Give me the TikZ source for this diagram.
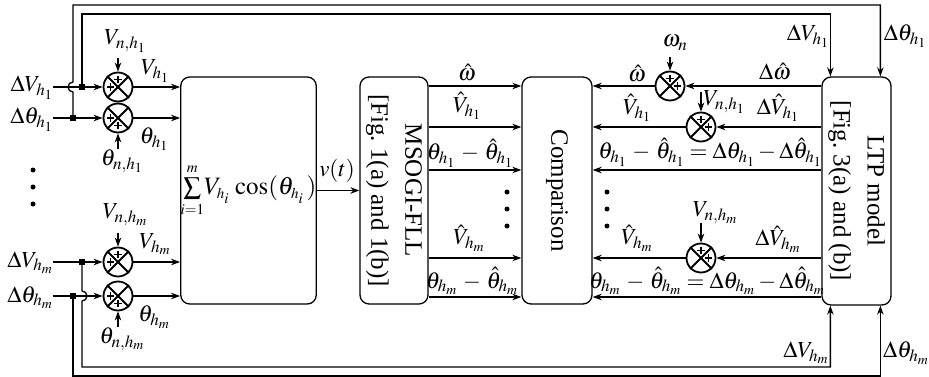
\documentclass[tikz,border=0pt]{standalone}
\usepackage{mathptmx}
\usepackage[no-math]{fontspec}
\setmainfont{Liberation Serif}
\usetikzlibrary{arrows.meta,calc}
\tikzset{
  wire/.style={line width=1.3pt},
  arr/.style={wire,-{Stealth[length=9pt,width=6.5pt]}},
  blk/.style={draw,line width=1.3pt,rounded corners=9pt,inner sep=0pt},
  sumj/.style={draw,circle,line width=1.8pt,minimum size=29pt,inner sep=0pt},
  lbl/.style={inner sep=0pt,font=\fontsize{23}{27}\selectfont},
  txt/.style={font=\fontsize{25}{34}\selectfont,align=center,inner sep=0pt},
  junc/.style={fill,minimum size=6.5pt,inner sep=0pt},
  dotmark/.style={fill,circle,minimum size=5pt,inner sep=0pt},
  plussign/.pic={\draw[line width=1.4pt] (-3.6pt,0)--(3.6pt,0) (0,-3.6pt)--(0,3.6pt);}
}
% summing junction: name, position, angles of the plus signs
\newcommand\mixjn[3]{%
  \node[sumj] (#1) at (#2) {};
  \draw[line width=1.8pt] (#1.north east)--(#1.south west) (#1.north west)--(#1.south east);
  \foreach \a in {#3} \pic at ($(#1.center)+(\a:7.5pt)$) {plussign};
}
\begin{document}
\begin{tikzpicture}[x=1pt,y=-1pt]
\useasboundingbox (0,0) rectangle (929,377);

% row levels of the signal lines
\coordinate (rW)  at (0,86);
\coordinate (rV1) at (0,127);
\coordinate (rT1) at (0,170);
\coordinate (rVm) at (0,258);
\coordinate (rTm) at (0,297);

% main blocks
\node[blk,txt,minimum width=133pt,minimum height=227pt] (sum) at (248.5,190.5)
  {$\sum\limits_{\scriptscriptstyle i=1}^{\scriptscriptstyle m}\!V_{\scriptscriptstyle h_i}\,\cos(\theta_{\scriptscriptstyle h_i}\,)$};
\node[blk,minimum width=68pt,minimum height=227pt] (msogi) at (394,190.5) {};
\node[txt,rotate=-90] (msogitxt) at (msogi.center) {MSOGI-FLL\\{}[Fig.~1(a) and 1(b)]};
\node[blk,minimum width=70pt,minimum height=227pt] (cmp) at (557,190.5) {};
\node[txt,rotate=-90] (cmptxt) at (cmp.center) {Comparison};
\node[blk,minimum width=69pt,minimum height=228pt] (ltp) at (856.5,191) {};
\node[txt,rotate=-90] (ltptxt) at (ltp.center) {LTP model\\{}[Fig.~3(a) and (b)]};

% input perturbations
\node[lbl,anchor=base east] (dV1) at (53,92) {$\Delta V_{h_1}$};
\node[lbl,anchor=base east] (dT1) at (53,124) {$\Delta\theta_{h_1}$};
\node[lbl,anchor=base east] (dVm) at (53,267) {$\Delta V_{h_m}$};
\node[lbl,anchor=base east] (dTm) at (53,302) {$\Delta\theta_{h_m}$};

\mixjn{mV1}{118,87}{90,180}
\mixjn{mT1}{118,118}{180,270}
\mixjn{mVm}{118,262}{90,180}
\mixjn{mTm}{118,296}{180,270}

\draw[arr] (dV1.east |- mV1.west) -- (mV1.west);
\draw[arr] (dT1.east |- mT1.west) -- (mT1.west);
\draw[arr] (dVm.east |- mVm.west) -- (mVm.west);
\draw[arr] (dTm.east |- mTm.west) -- (mTm.west);

\draw[arr] (mV1.east) -- (mV1.east -| sum.west);
\draw[arr] (mT1.east) -- (mT1.east -| sum.west);
\draw[arr] (mVm.east) -- (mVm.east -| sum.west);
\draw[arr] (mTm.east) -- (mTm.east -| sum.west);

% nominal values
\node[lbl] (Vn1) at (125,41) {$V_{n,h_1}$};
\node[lbl] (Tn1) at (122,161) {$\theta_{n,h_1}$};
\node[lbl] (Vnm) at (125,215) {$V_{n,h_m}$};
\node[lbl] (Tnm) at (122,339) {$\theta_{n,h_m}$};
\draw[arr] ([yshift=14pt]mV1.north) -- (mV1.north);
\draw[arr] ([yshift=-16pt]mT1.south) -- (mT1.south);
\draw[arr] ([yshift=14pt]mVm.north) -- (mVm.north);
\draw[arr] ([yshift=-16pt]mTm.south) -- (mTm.south);

\node[lbl] (V1) at (155,71) {$V_{h_1}$};
\node[lbl] (T1) at (154,139) {$\theta_{h_1}$};
\node[lbl] (Vm) at (155,244) {$V_{h_m}$};
\node[lbl] (Tm) at (154,317) {$\theta_{h_m}$};

% branch points and feedback paths to the LTP model
\node[junc] (jV1) at (82,87) {};
\node[junc] (jT1) at (73,118) {};
\node[junc] (jVm) at (82,262) {};
\node[junc] (jTm) at (73,296) {};

\draw[arr] (jV1.center) -- (82,14) -| ([xshift=9pt]ltp.north west);
\draw[arr] (jT1.center) -- (73,92) arc[start angle=270,end angle=90,radius=5pt]
  -- (73,5) -| ([xshift=59pt]ltp.north west);
\draw[arr] (jVm.center) -- (82,291) arc[start angle=90,end angle=-90,radius=5pt]
  -- (82,367) -| ([xshift=9pt]ltp.south west);
\draw[arr] (jTm.center) -- (73,376) -| ([xshift=59pt]ltp.south west);

\node[lbl] (fV1) at (808,36) {$\Delta V_{h_1}$};
\node[lbl] (fT1) at (905,36) {$\Delta\theta_{h_1}$};
\node[lbl] (fVm) at (806,353) {$\Delta V_{h_m}$};
\node[lbl] (fTm) at (906,353) {$\Delta\theta_{h_m}$};

% left vertical dots
\node[dotmark] (ld1) at (33,170) {};
\node[dotmark] (ld2) at (33,187) {};
\node[dotmark] (ld3) at (33,204) {};

% composite signal
\draw[arr] (sum.east) -- (msogi.west);
\node[lbl] (vt) at (337,171) {$v(t)$};

% estimator outputs
\foreach \r in {rW,rV1,rT1,rVm,rTm}
  \draw[arr] (msogi.east |- \r) -- (cmp.west |- \r);
\node[lbl] (oW)  at (467,73)  {$\hat{\omega}$};
\node[lbl] (oV1) at (467,106) {$\hat{V}_{h_1}$};
\node[lbl] (oT1) at (470,153) {$\theta_{h_1}\,-\,\hat{\theta}_{h_1}$};
\node[lbl] (oVm) at (469,238) {$\hat{V}_{h_m}$};
\node[lbl] (oTm) at (472,281) {$\theta_{h_m}\,-\,\hat{\theta}_{h_m}$};
\node[dotmark] (md1) at (507,192) {};
\node[dotmark] (md2) at (507,209) {};
\node[dotmark] (md3) at (507,226) {};

% LTP model outputs
\mixjn{mW}{670,86}{90,0}
\mixjn{mR1}{701,127}{90,0}
\mixjn{mRm}{701,258}{90,0}

\draw[arr] (ltp.west |- rW) -- (mW.east);
\draw[arr] (mW.west) -- (cmp.east |- rW);
\draw[arr] (ltp.west |- rV1) -- (mR1.east);
\draw[arr] (mR1.west) -- (cmp.east |- rV1);
\draw[arr] (ltp.west |- rT1) -- (cmp.east |- rT1);
\draw[arr] (ltp.west |- rVm) -- (mRm.east);
\draw[arr] (mRm.west) -- (cmp.east |- rVm);
\draw[arr] (ltp.west |- rTm) -- (cmp.east |- rTm);

\draw[arr] ([yshift=14pt]mW.north) -- (mW.north);
\draw[arr] ([yshift=20pt]mR1.north) -- (mR1.north);
\draw[arr] ([yshift=20pt]mRm.north) -- (mRm.north);
\node[lbl] (wn) at (675,43) {$\omega_n$};
\node[lbl] (Rn1) at (724,102) {$V_{n,h_1}$};
\node[lbl] (Rnm) at (715,213) {$V_{n,h_m}$};

\node[lbl] (cW)  at (637,74)  {$\hat{\omega}$};
\node[lbl] (cV1) at (637,108) {$\hat{V}_{h_1}$};
\node[lbl] (cVm) at (637,238) {$\hat{V}_{h_m}$};
\node[lbl] (lW)  at (775,72)  {$\Delta\hat{\omega}$};
\node[lbl] (lV1) at (778,108) {$\Delta\hat{V}_{h_1}$};
\node[lbl] (lVm) at (778,239) {$\Delta\hat{V}_{h_m}$};
\node[lbl] (eT1) at (710,152) {$\theta_{h_1}\,-\,\hat{\theta}_{h_1}=\Delta\theta_{h_1}-\Delta\hat{\theta}_{h_1}$};
\node[lbl] (eTm) at (707,281) {$\theta_{h_m}\,-\,\hat{\theta}_{h_m}=\Delta\theta_{h_m}-\Delta\hat{\theta}_{h_m}$};
\node[dotmark] (rd1) at (607,192) {};
\node[dotmark] (rd2) at (607,209) {};
\node[dotmark] (rd3) at (607,226) {};
\end{tikzpicture}
\end{document}
